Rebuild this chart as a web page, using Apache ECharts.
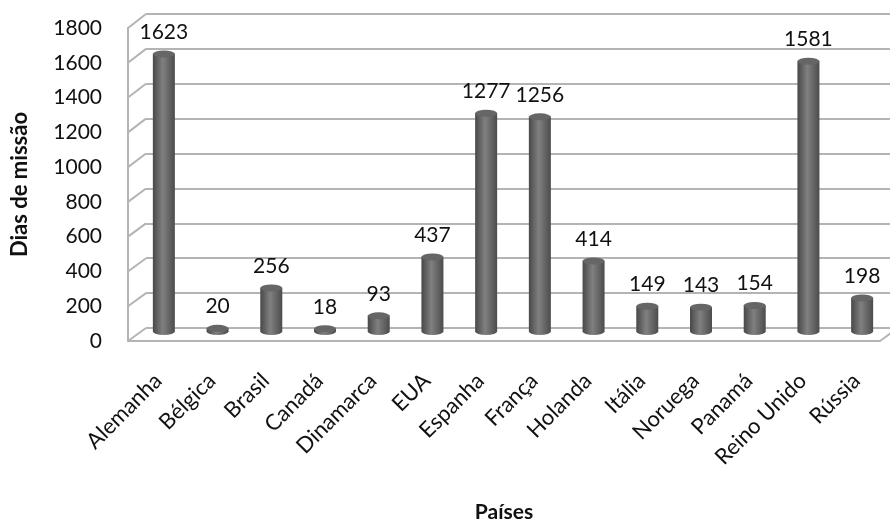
<!DOCTYPE html>
<html><head><meta charset="utf-8">
<script src="https://cdn.jsdelivr.net/npm/echarts@6/dist/echarts.min.js"></script>
<style>html,body{margin:0;padding:0;background:#fff}#c{width:890px;height:519px}</style>
</head><body><div id="c"></div>
<script>
const categories = ['Alemanha','Bélgica','Brasil','Canadá','Dinamarca','EUA','Espanha','França','Holanda','Itália','Noruega','Panamá','Reino Unido','Rússia'];
const values = [1623,20,256,18,93,437,1277,1256,414,149,143,154,1581,198];
const yTicks = [0,200,400,600,800,1000,1200,1400,1600,1800];
const yAxisTitle = 'Dias de missão';
const xAxisTitle = 'Países';

const FONT = 'Lato';
const chart = echarts.init(document.getElementById('c'), null, {renderer:'canvas'});
const gridLine = '#b4b4b4';
const bodyGrad = new echarts.graphic.LinearGradient(0,0,1,0,[
  {offset:0,color:'#484848'},{offset:0.45,color:'#808080'},{offset:1,color:'#4c4c4c'}]);

const option = {
  animation:false,
  grid:[
    {left:128, right:10, top:28, height:313, outerBoundsMode:'none'},
    {left:146, right:-8, top:14, height:314, outerBoundsMode:'none'},
    {left:137, right:1, top:23.5, height:308, outerBoundsMode:'none'}
  ],
  xAxis:[
    {gridIndex:0, type:'value', min:0, max:1, axisLine:{show:true, onZero:false, lineStyle:{color:gridLine,width:2}}, axisTick:{show:false}, axisLabel:{show:false}, splitLine:{show:false}},
    {gridIndex:1, type:'value', min:0, max:1, show:false},
    {gridIndex:2, type:'category', data:categories, axisLine:{show:false}, axisTick:{show:false},
     axisLabel:{rotate:45, margin:40, padding:[0,8,0,0], fontFamily:FONT, fontSize:22, color:'#111', interval:0},
     name:xAxisTitle, nameLocation:'middle', nameGap:170,
     nameTextStyle:{fontFamily:FONT, fontSize:21, fontWeight:'bold', color:'#111', padding:[0,18,0,0]}}
  ],
  yAxis:[
    {gridIndex:0, type:'value', min:0, max:1800, interval:200,
     axisLine:{show:true, lineStyle:{color:gridLine,width:2}}, axisTick:{show:false}, splitLine:{show:false},
     axisLabel:{margin:26, fontFamily:FONT, fontSize:21, color:'#111', formatter:v => String(v)},
     name:yAxisTitle, nameLocation:'middle', nameRotate:90, nameGap:97,
     nameTextStyle:{fontFamily:FONT, fontSize:22, fontWeight:'bold', color:'#111'}},
    {gridIndex:1, type:'value', min:0, max:1800, interval:200,
     axisLine:{show:false}, axisTick:{show:false}, axisLabel:{show:false},
     splitLine:{show:true, lineStyle:{color:gridLine,width:2}}},
    {gridIndex:2, type:'value', min:0, max:1800, interval:200, show:false}
  ],
  series:[
    {type:'pictorialBar', xAxisIndex:2, yAxisIndex:2, data:values, symbol:'circle',
     symbolSize:[22,7], symbolPosition:'start', symbolOffset:[0,'50%'], z:3,
     itemStyle:{color:bodyGrad}, silent:true},
    {type:'bar', xAxisIndex:2, yAxisIndex:2, data:values, barWidth:22, z:4,
     itemStyle:{color:bodyGrad},
     label:{show:true, position:'top', distance:11, fontFamily:FONT, fontSize:21, color:'#111'}},
    {type:'pictorialBar', xAxisIndex:2, yAxisIndex:2, data:values, symbol:'circle',
     symbolSize:[22,7], symbolPosition:'end', symbolOffset:[0,'-50%'], z:5,
     itemStyle:{color:'#666666', borderColor:'#7a7a7a', borderWidth:1}, silent:true}
  ]
};
chart.setOption(option);

const lines = [];
yTicks.forEach(v => {
  const f = chart.convertToPixel({gridIndex:0}, [0, v]);
  const b = chart.convertToPixel({gridIndex:1}, [0, v]);
  lines.push({type:'line', shape:{x1:f[0],y1:f[1],x2:b[0],y2:b[1]}, style:{stroke:gridLine, lineWidth:2}, z:1});
});
const fr = chart.convertToPixel({gridIndex:0}, [1, 0]);
const br = chart.convertToPixel({gridIndex:1}, [1, 0]);
lines.push({type:'line', shape:{x1:fr[0],y1:fr[1],x2:br[0],y2:br[1]}, style:{stroke:gridLine, lineWidth:2}, z:1});
chart.setOption({graphic:lines});
</script>
</body></html>
